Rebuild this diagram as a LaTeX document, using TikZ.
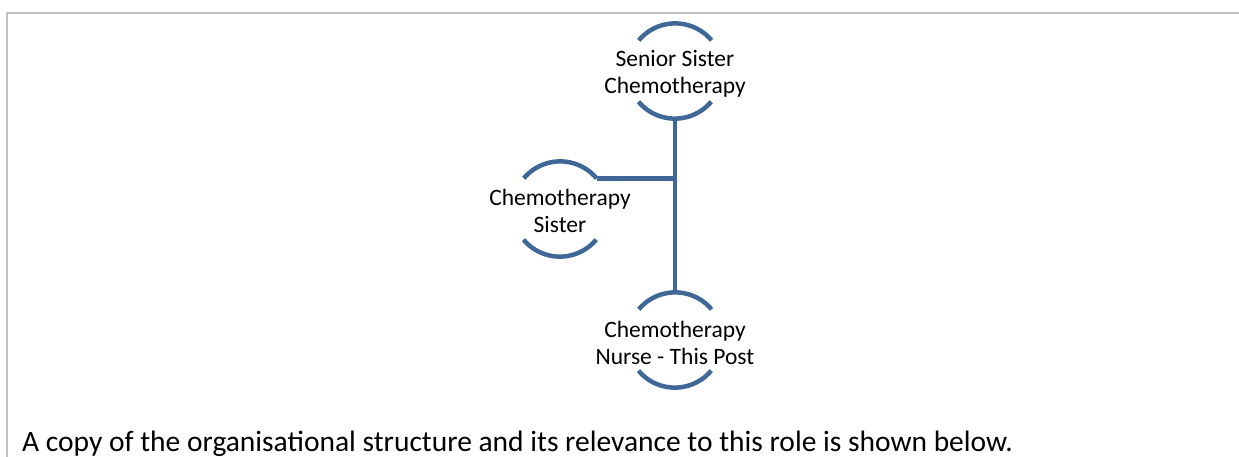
\documentclass[tikz,border=0pt]{standalone}
\usepackage{fontspec}
\setmainfont{Carlito}
\definecolor{arcblue}{RGB}{63,104,153}
\definecolor{framegray}{RGB}{191,191,191}
\begin{document}
\begin{tikzpicture}[x=1pt,y=-1pt,
  ring/.style={circle,minimum size=95pt,inner sep=0pt},
  ringtext/.style={align=center,font=\fontsize{23.5}{27}\selectfont,inner sep=0pt},
  arcline/.style={draw=arcblue,line width=4.5pt},
  link/.style={draw=arcblue,line width=4.5pt}]
\useasboundingbox (0,0) rectangle (1239,457);
\draw[framegray,line width=2pt] (7,457) -- (7,13) -- (1239,13);
% nodes
\node[ring] (top) at (675,71) {};
\node[ring] (left) at (560,209) {};
\node[ring] (bot) at (675,340) {};
\node[ringtext] (toptext) at (675,74) {Senior Sister\\Chemotherapy};
\node[ringtext] (lefttext) at (560,211) {Chemotherapy\\Sister};
\node[ringtext] (bottext) at (675,343) {Chemotherapy\\Nurse - This Post};
% arcs
\foreach \n in {top,left,bot}{
  \draw[arcline] (\n.40) arc[start angle=40,end angle=140,radius=47.5pt];
  \draw[arcline] (\n.220) arc[start angle=220,end angle=320,radius=47.5pt];
}
% connectors
\coordinate (junction) at (left.40 -| top.south);
\draw[link] (top.south) -- (bot.north);
\draw[link] (left.40) -- (junction);
% caption
\node[anchor=base west,inner sep=0pt,font=\fontsize{29.5}{34}\selectfont] (caption) at (22,451) {A copy of the organisational structure and its relevance to this role is shown below.};
\end{tikzpicture}
\end{document}
